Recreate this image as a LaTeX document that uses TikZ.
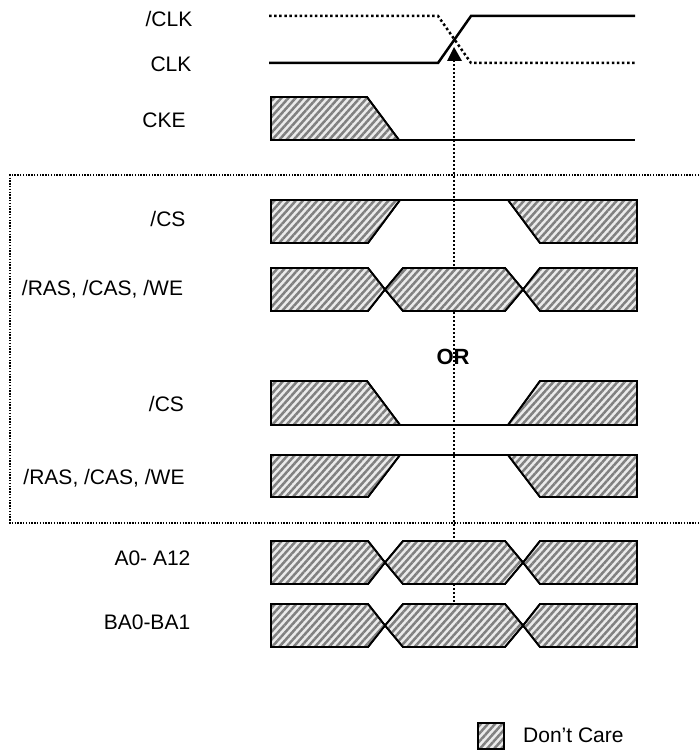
\documentclass[tikz,border=0pt]{standalone}
\usepackage{fontspec}
\setmainfont{Liberation Sans}
\usetikzlibrary{patterns.meta,arrows.meta}
\tikzset{
  hatchshape/.style={draw=black,line width=1.8pt,line join=miter,fill=black!8,
    postaction={pattern={Lines[angle=48,distance=5.3pt,line width=2.5pt]},pattern color=black!50},
    postaction={draw=black,line width=1.8pt}},
  sigline/.style={line width=1.8pt},
  clockline/.style={line width=2.5pt},
  clockdots/.style={line width=2.5pt,dash pattern=on 2.5pt off 2.6pt},
  guide/.style={line width=1.9pt,dash pattern=on 2pt off 2pt},
  framebox/.style={line width=1.3pt,dash pattern=on 1.4pt off 1.4pt},
  lab/.style={font=\fontsize{21}{24}\selectfont,inner sep=0pt,anchor=center}
}
\begin{document}
\begin{tikzpicture}[x=1pt,y=-1pt]
\useasboundingbox (0,0) rectangle (699,751);
% labels
\node[lab] (nclk) at (169,18.5) {/CLK};
\node[lab] (clk) at (171,64.5) {CLK};
\node[lab] (cke) at (164,120.5) {CKE};
\node[lab] (cs1) at (168,219) {/CS};
\node[lab] (ras1) at (102.5,289) {/RAS, /CAS, /WE};
\node[lab,font=\fontsize{22}{24}\selectfont\bfseries] (or) at (453,357) {OR};
\node[lab] (cs2) at (166.5,404) {/CS};
\node[lab] (ras2) at (104,478) {/RAS, /CAS, /WE};
\node[lab] (addr) at (152.5,558) {A0- A12};
\node[lab] (bank) at (147,622) {BA0-BA1};
\node[lab,anchor=west] (care) at (523,735.5) {Don’t Care};
% guide and frame
\coordinate (gt) at (454,60);
\coordinate (gb) at (454,603);
\draw[guide] (gt) -- (gb);
\coordinate (f1) at (699,175);
\coordinate (f2) at (10,175);
\coordinate (f3) at (10,523);
\coordinate (f4) at (699,523);
\draw[framebox] (f1) -- (f2) -- (f3) -- (f4);
% clocks
\draw[clockdots] (269,16) -- (438,16) -- (471,63) -- (635,63);
\draw[clockline] (269,63) -- (438,63) -- (471,16) -- (635,16);
\fill (454,47) -- (462,61) -- (447,61) -- cycle;
% CKE
\draw[hatchshape] (271,97) -- (367,97) -- (399,140) -- (271,140) -- cycle;
\draw[sigline] (399,140) -- (635,140);
% /CS high
\draw[hatchshape] (271,200) -- (400,200) -- (368,243) -- (271,243) -- cycle;
\draw[hatchshape] (508,200) -- (540,243) -- (637,243) -- (637,200) -- cycle;
\draw[sigline] (400,200) -- (508,200);
% /RAS
\foreach \t/\b/\m in {268/311/289.5,541/584/562.5,604/647/625.5}{
  \draw[hatchshape] (271,\t) -- (368,\t) -- (385,\m) -- (368,\b) -- (271,\b) -- cycle;
  \draw[hatchshape] (385,\m) -- (403,\t) -- (505,\t) -- (523,\m) -- (505,\b) -- (403,\b) -- cycle;
  \draw[hatchshape] (523,\m) -- (540,\t) -- (637,\t) -- (637,\b) -- (540,\b) -- cycle;
}
% /CS low
\draw[hatchshape] (271,381) -- (367,381) -- (400,425) -- (271,425) -- cycle;
\draw[hatchshape] (508,425) -- (540,381) -- (637,381) -- (637,425) -- cycle;
\draw[sigline] (400,425) -- (508,425);
% /RAS second
\draw[hatchshape] (271,455) -- (400,455) -- (368,497) -- (271,497) -- cycle;
\draw[hatchshape] (508,455) -- (540,497) -- (637,497) -- (637,455) -- cycle;
\draw[sigline] (400,455) -- (508,455);
% legend
\draw[hatchshape] (478,723) rectangle (504,749);
\end{tikzpicture}
\end{document}
